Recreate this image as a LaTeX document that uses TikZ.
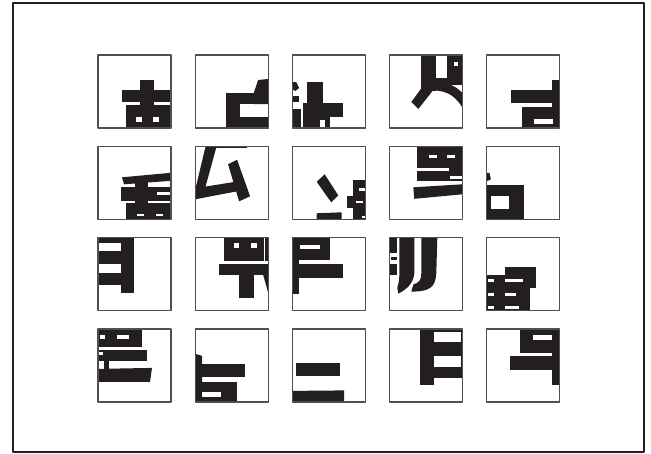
\documentclass[tikz,border=0pt]{standalone}
\definecolor{ink}{HTML}{231F20}
\definecolor{edgegray}{HTML}{505050}
\tikzset{
  glyph/.style={fill=ink},
  hole/.style={fill=white},
  cellbox/.style={draw=edgegray, line width=1.2},
  frame/.style={draw=ink, line width=1.5}
}
% one square of the grid: column, row, fragment
\newcommand{\glyphcell}[3]{%
  \begin{scope}[shift={({98+97.1*(#1-1)},{55+91.3*(#2-1)})}]
    \begin{scope}
      \clip (0,0) rectangle (73,73);
      #3
    \end{scope}
    \draw[cellbox] (0,0) rectangle (73,73);
  \end{scope}}
\begin{document}
\begin{tikzpicture}[x=1pt, y=-1pt, line join=round]
  \useasboundingbox (0,0) rectangle (651,453);
  \draw[frame] (13,3) rectangle (644,452);

  % row 1
  \glyphcell{1}{1}{
    \fill[glyph] (42,25) rectangle (56,51);
    \fill[glyph] (24,35) rectangle (73,47);
    \fill[glyph] (28,50) rectangle (73,73);
    \fill[hole] (38,61.5) rectangle (44,66.5);
    \fill[hole] (55,61.5) rectangle (61,66.5);}
  \glyphcell{2}{1}{
    \fill[glyph] (63,25) -- (73,24) -- (73,49) -- (59,49) -- (59,37) -- cycle;
    \fill[glyph] (30.5,37.5) rectangle (73,48.5);
    \fill[glyph] (30.5,37.5) rectangle (44.5,73);
    \fill[glyph] (30.5,62) rectangle (73,73);}
  \glyphcell{3}{1}{
    \fill[glyph] (14.5,26.5) rectangle (30.5,73);
    \fill[glyph] (10.5,47.5) rectangle (50.5,62);
    \fill[glyph] (10.5,62) rectangle (38,73);
    \fill[hole] (28,65) rectangle (32.5,73);
    \fill[glyph] (0,27) -- (4,27) -- (7,33) -- (3,36) -- (0,34) -- cycle;
    \fill[glyph] (0,41) rectangle (7,47);
    \fill[glyph] (0,54) rectangle (9,73);}
  \glyphcell{4}{1}{
    \fill[glyph] (32,0) rectangle (47,36);
    \fill[glyph] (58,0) rectangle (73,30);
    \fill[hole] (65,7) rectangle (69,11);
    \fill[glyph] (47,23) rectangle (73,30);
    \fill[glyph] (33,32) -- (44,35) -- (29,54) -- (22,47) -- cycle;
    \draw[draw=ink, line width=9] (44,31) .. controls (60,31) and (70,38) .. (78,52);}
  \glyphcell{5}{1}{
    \fill[glyph] (66,25) rectangle (73,73);
    \fill[glyph] (25,34.5) rectangle (73,47.5);
    \fill[glyph] (35.5,52) rectangle (73,73);
    \fill[hole] (48,63.5) rectangle (66.5,68.5);}

  % row 2
  \glyphcell{1}{2}{
    \fill[glyph] (24,31) -- (73,26.5) -- (73,34.5) -- (26,38) -- cycle;
    \fill[glyph] (37,35) rectangle (50,58);
    \fill[glyph] (23,41) rectangle (73,55);
    \fill[hole] (59,46) rectangle (73,49);
    \fill[glyph] (28,57) rectangle (73,73);
    \fill[hole] (39,67.5) rectangle (46,70);
    \fill[hole] (58,67.5) rectangle (65,70);}
  \glyphcell{2}{2}{
    \fill[glyph] (10.5,0) -- (21.5,0) -- (10,42) -- (0,44) -- cycle;
    \fill[glyph] (0,42) -- (40,35.5) -- (42,45) -- (0,53) -- cycle;
    \fill[glyph] (33,18) -- (42,13.5) -- (55,50) -- (44,55) -- cycle;
    \fill[glyph] (20,0) rectangle (52,1.5);}
  \glyphcell{3}{2}{
    \fill[glyph] (24.5,35.5) -- (32.5,28) -- (46,49) -- (39,56) -- cycle;
    \fill[glyph] (61,34) rectangle (73,73);
    \fill[glyph] (55,50) rectangle (61,62);
    \fill[hole] (67,41.5) rectangle (73,44.5);
    \fill[hole] (64,54.5) rectangle (71,57);
    \fill[hole] (70,69.5) rectangle (73,72);
    \fill[glyph] (24.5,67) -- (49.5,66) -- (49.5,74) -- (24.5,74) -- cycle;}
  \glyphcell{4}{2}{
    \fill[glyph] (28,0) rectangle (73,35);
    \fill[hole] (40,8.5) rectangle (48,11.5);
    \fill[hole] (58,8.5) rectangle (66,11.5);
    \fill[hole] (28,22) rectangle (60,24.5);
    \fill[hole] (61,30) rectangle (73,32.5);
    \fill[glyph] (24,41) -- (73,38) -- (73,48) -- (25,52.5) -- cycle;}
  \glyphcell{5}{2}{
    \fill[glyph] (0,26.5) -- (3,26.5) -- (4.5,33) -- (0,35) -- cycle;
    \fill[glyph] (0,38.5) rectangle (37.5,73);
    \fill[hole] (4.5,50) rectangle (23,62.5);}

  % row 3
  \glyphcell{1}{3}{
    \fill[glyph] (23,0) rectangle (36,55);
    \fill[glyph] (0,0) rectangle (23,5);
    \fill[glyph] (0,13) rectangle (23,26);
    \fill[glyph] (0,35) rectangle (23,47);}
  \glyphcell{2}{3}{
    \fill[glyph] (28.5,0) rectangle (73,23);
    \fill[hole] (38.5,5.5) rectangle (44,10.5);
    \fill[hole] (56,5.5) rectangle (61.5,10.5);
    \fill[hole] (69,0) rectangle (70.2,23);
    \fill[glyph] (23.5,26) rectangle (73,37.5);
    \fill[glyph] (43.5,37) rectangle (58.5,60);
    \fill[glyph] (68,37) -- (73,37) -- (73,55) -- cycle;}
  \glyphcell{3}{3}{
    \fill[glyph] (0,0) rectangle (37.5,22);
    \fill[hole] (7.5,7.5) rectangle (27.5,11);
    \fill[glyph] (0,26.5) rectangle (50.5,40);
    \fill[glyph] (0,0) rectangle (7,56);}
  \glyphcell{4}{3}{
    \fill[glyph] (0.5,0) rectangle (8,15);
    \fill[glyph] (2,19) rectangle (8,22);
    \fill[glyph] (0.5,26) rectangle (8,37);
    \fill[glyph] (10,0) -- (25,0) -- (25,36) .. controls (24,46) and (17,52) .. (9,56)
      -- (8,50) .. controls (10,44) and (10,40) .. (10,36) -- cycle;
    \fill[glyph] (32,0) -- (48,0) -- (47,36) .. controls (46,50) and (40,54) .. (22,54)
      -- (24,47) .. controls (30,45) and (32,42) .. (32,36) -- cycle;}
  \glyphcell{5}{3}{
    \fill[glyph] (19,29.5) rectangle (50,50);
    \fill[glyph] (0,37.5) rectangle (44,73);
    \fill[hole] (2,41.5) rectangle (7.5,44.5);
    \fill[hole] (19,41.5) rectangle (37,44.5);
    \fill[hole] (2,55) rectangle (7.5,58);
    \fill[hole] (19,55) rectangle (30,58);
    \fill[hole] (2,68) rectangle (7.5,71);
    \fill[hole] (19,68) rectangle (33,71);}

  % row 4
  \glyphcell{1}{4}{
    \fill[glyph] (0,0) rectangle (44,18);
    \fill[hole] (1.5,6.5) rectangle (6.5,10);
    \fill[hole] (19,6.5) rectangle (31,10);
    \fill[glyph] (0,21) rectangle (49,32);
    \fill[hole] (0,23.5) rectangle (5,26);
    \fill[glyph] (5.5,32) rectangle (10.5,40);
    \fill[glyph] (0,40) -- (54,39) -- (52,53) -- (0,53) -- cycle;}
  \glyphcell{2}{4}{
    \fill[glyph] (0.5,25) -- (7,27) -- (7,73) -- (0.5,73) -- cycle;
    \fill[glyph] (7,35.5) rectangle (50,48.5);
    \fill[glyph] (0.5,53.5) rectangle (41.5,73);
    \fill[hole] (7,63.5) rectangle (26,68.5);}
  \glyphcell{3}{4}{
    \fill[glyph] (4,34) rectangle (48,47);
    \fill[glyph] (0,62) -- (52,61.5) -- (52,73) -- (0,73) -- cycle;}
  \glyphcell{4}{4}{
    \fill[glyph] (31,0) rectangle (44.5,56);
    \fill[glyph] (44.5,0) rectangle (73,49.5);
    \fill[hole] (44.5,3) rectangle (71.5,13);
    \fill[hole] (44.5,27) rectangle (71.5,38);}
  \glyphcell{5}{4}{
    \fill[glyph] (34,0) rectangle (73,24);
    \fill[hole] (47,6) rectangle (66,11.5);
    \fill[glyph] (24,27.5) rectangle (73,41);
    \fill[glyph] (66,0) rectangle (73,56);}
\end{tikzpicture}
\end{document}
